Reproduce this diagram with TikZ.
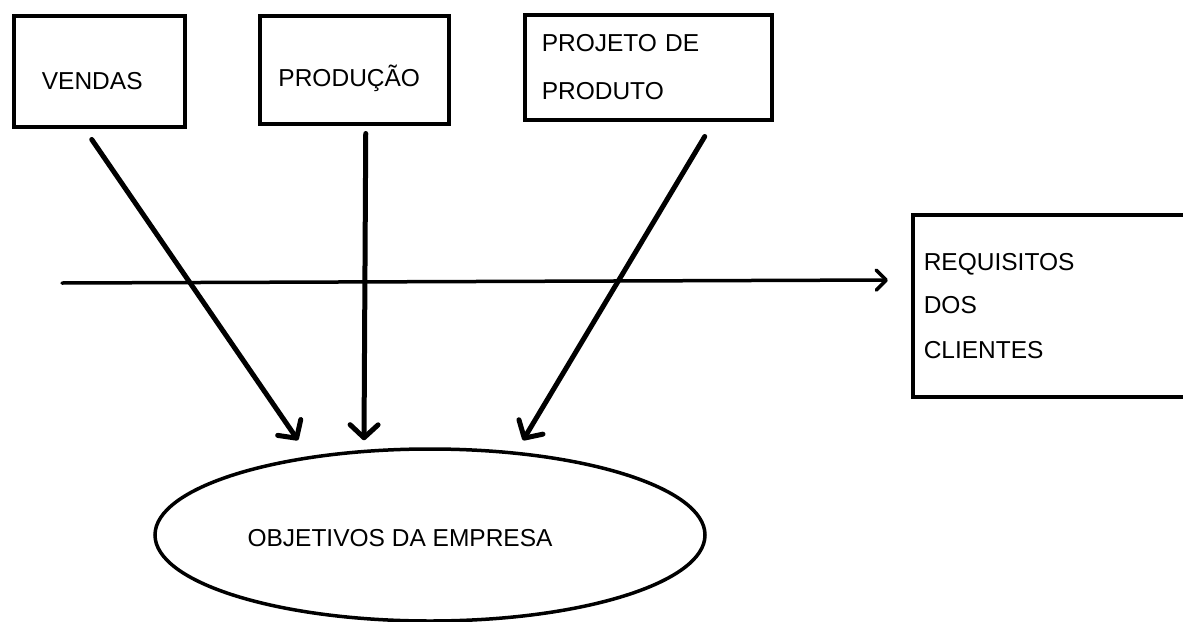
\documentclass[tikz,border=0pt]{standalone}
\usepackage{fontspec}
\setmainfont{Liberation Sans}
\usetikzlibrary{arrows.meta,shapes.geometric}
\begin{document}
\begin{tikzpicture}[x=1pt,y=-1pt,font=\fontsize{24.5}{29.4}\selectfont]
  \tikzset{ caixa/.style={draw,line width=3.5pt,inner sep=0pt,anchor=north west},
    seta/.style={line width=5pt,line cap=round,-{Straight Barb[round,length=13pt,width=28pt]}},
    linha/.style={line width=3.5pt,line cap=round,-{Straight Barb[round,length=10pt,width=20pt]}},
  }
  \useasboundingbox (0,0) rectangle (1183,621);
  \clip (0,0) rectangle (1183,621);

  \node[caixa,minimum width=171pt,minimum height=111pt,
    label={[xshift=-7pt,yshift=-9.5pt]center:VENDAS}] (vendas) at (12,14) {};
  \node[caixa,minimum width=189pt,minimum height=108pt,
    label={[xshift=-5pt,yshift=-9pt]center:PRODUÇÃO}] (producao) at (258,14) {};
  \node[caixa,align=left,inner xsep=17pt,text width=213pt,minimum height=105pt] (projeto) at (523,13) {PROJETO DE\\[18pt]PRODUTO};
  \node[caixa,align=left,inner xsep=11pt,text width=267pt,minimum height=182pt] (requisitos) at (911,213) {REQUISITOS\\[14pt]DOS\\[15.5pt]CLIENTES};
  \node[draw,ellipse,line width=3.5pt,inner sep=0pt,minimum width=550pt,minimum height=172pt,
    label={[xshift=-30pt,yshift=-3pt]center:OBJETIVOS DA EMPRESA}] (objetivos) at (430,535) {};

  % the arrows towards the goals
  \draw[seta] ([xshift=-7.5pt,yshift=-11pt]vendas.south) -- ([xshift=-132pt,yshift=7pt]objetivos.north);
  \draw[seta] ([xshift=11.5pt,yshift=-8pt]producao.south) -- ([xshift=-66pt,yshift=7pt]objetivos.north);
  \draw[seta] ([xshift=56.5pt,yshift=-15pt]projeto.south) -- ([xshift=93pt,yshift=7pt]objetivos.north);

  % the line towards the clients
  \coordinate (ini) at (62,283);
  \coordinate (fim) at (888,280);
  \draw[linha] (ini) -- (fim);
\end{tikzpicture}
\end{document}
